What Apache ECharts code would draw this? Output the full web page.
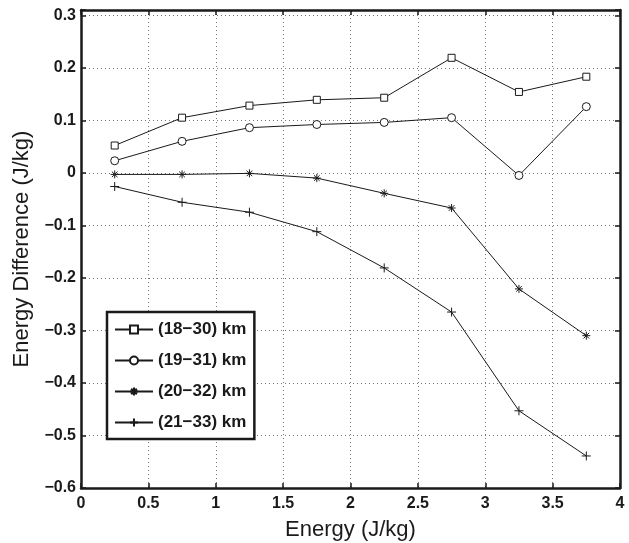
<!DOCTYPE html>
<html>
<head>
<meta charset="utf-8">
<script src="https://cdn.jsdelivr.net/npm/echarts@6/dist/echarts.min.js"></script>
<style>
  html, body { margin: 0; padding: 0; background: #fff; }
  #chart { width: 629px; height: 543px; }
</style>
</head>
<body>
<div id="chart"></div>
<script>
// Energy bins (J/kg)
const energy = [0.25, 0.75, 1.25, 1.75, 2.25, 2.75, 3.25, 3.75];

// Energy difference (J/kg) for each altitude layer
const layer18to30 = [0.052, 0.105, 0.128, 0.139, 0.143, 0.219, 0.154, 0.183];
const layer19to31 = [0.023, 0.060, 0.086, 0.092, 0.096, 0.105, -0.005, 0.126];
const layer20to32 = [-0.003, -0.003, -0.001, -0.010, -0.039, -0.067, -0.221, -0.310];
const layer21to33 = [-0.026, -0.056, -0.075, -0.112, -0.181, -0.265, -0.453, -0.539];

const seriesNames = ['(18\u221230) km', '(19\u221231) km', '(20\u221232) km', '(21\u221233) km'];

const FONT = '"Liberation Sans", Arial, Helvetica, sans-serif';
const INK = '#1a1a1a';

// Thin-stroke marker outlines: square, circle, asterisk, plus
const squarePath = 'path://M0 0 L10 0 L10 10 L0 10 Z';
const circlePath = 'path://M10 5 A5 5 0 1 1 0 5 A5 5 0 1 1 10 5 Z';
const starPath = 'path://M5 0 L5 10 M0 5 L10 5 M1.5 1.5 L8.5 8.5 M8.5 1.5 L1.5 8.5';
const plusPath = 'path://M5 0 L5 10 M0 5 L10 5';

function pairs(ys) { return energy.map((x, i) => [x, ys[i]]); }

function fmtY(v) {
  const r = Math.round(v * 10) / 10;
  if (Math.abs(v - r) > 1e-6) return '';
  if (r === 0) return '0';
  return String(r).replace('-', '\u2212');
}
function fmtX(v) {
  const r = Math.round(v * 2) / 2;
  if (Math.abs(v - r) > 1e-6) return '';
  return String(r);
}

function makeSeries(name, ys, symbol, size, hollow) {
  return {
    name: name,
    type: 'line',
    data: pairs(ys),
    symbol: symbol,
    symbolSize: size,
    showAllSymbol: true,
    lineStyle: { color: INK, width: 1 },
    itemStyle: { color: hollow ? '#fff' : INK, borderColor: INK, borderWidth: 1 },
    emphasis: { disabled: true },
    animation: false,
    z: 3
  };
}

const chart = echarts.init(document.getElementById('chart'), null, { renderer: 'canvas' });

const axisLineStyle = { color: INK, width: 2.5 };
const tickStyle = { show: true, inside: true, length: 5, lineStyle: { color: INK, width: 1.5 } };
const gridDots = { show: true, lineStyle: { color: '#777', width: 1, type: [1, 3] } };

chart.setOption({
  backgroundColor: '#fff',
  animation: false,
  grid: { left: 81, right: 9, top: 10, bottom: 55, containLabel: false, outerBoundsMode: 'none' },
  xAxis: [
    {
      type: 'value', min: 0, max: 4, interval: 0.5, position: 'bottom',
      name: 'Energy (J/kg)', nameLocation: 'middle', nameGap: 31,
      nameTextStyle: { fontFamily: FONT, fontSize: 22, color: INK },
      axisLine: { show: true, onZero: false, lineStyle: axisLineStyle },
      axisTick: tickStyle,
      axisLabel: { formatter: fmtX, margin: 8, fontFamily: FONT, fontSize: 16, fontWeight: 'bold', color: INK },
      splitLine: gridDots
    },
    {
      type: 'value', min: 0, max: 4, interval: 0.5, position: 'top',
      axisLine: { show: true, onZero: false, lineStyle: axisLineStyle },
      axisTick: tickStyle,
      axisLabel: { show: false },
      splitLine: { show: false }
    }
  ],
  yAxis: [
    {
      type: 'value', min: -0.6, max: 0.31, interval: 0.1, position: 'left',
      name: 'Energy Difference (J/kg)', nameLocation: 'middle', nameGap: 48,
      nameTextStyle: { fontFamily: FONT, fontSize: 22, color: INK },
      axisLine: { show: true, onZero: false, lineStyle: axisLineStyle },
      axisTick: tickStyle,
      axisLabel: { formatter: fmtY, margin: 5, fontFamily: FONT, fontSize: 16, fontWeight: 'bold', color: INK },
      splitLine: gridDots
    },
    {
      type: 'value', min: -0.6, max: 0.31, interval: 0.1, position: 'right',
      axisLine: { show: true, onZero: false, lineStyle: axisLineStyle },
      axisTick: tickStyle,
      axisLabel: { show: false },
      splitLine: { show: false }
    }
  ],
  legend: {
    orient: 'vertical',
    left: 107, top: 312,
    padding: [9, 8, 8, 7],
    itemWidth: 38, itemHeight: 10, itemGap: 14,
    backgroundColor: '#fff',
    borderColor: INK, borderWidth: 2.5,
    textStyle: { fontFamily: FONT, fontSize: 17, fontWeight: 'bold', color: INK, lineHeight: 17 },
    selectedMode: false,
    data: seriesNames
  },
  series: [
    makeSeries(seriesNames[0], layer18to30, squarePath, 7, true),
    makeSeries(seriesNames[1], layer19to31, circlePath, 8, true),
    makeSeries(seriesNames[2], layer20to32, starPath, 8, false),
    makeSeries(seriesNames[3], layer21to33, plusPath, 9, false)
  ]
});
</script>
</body>
</html>
